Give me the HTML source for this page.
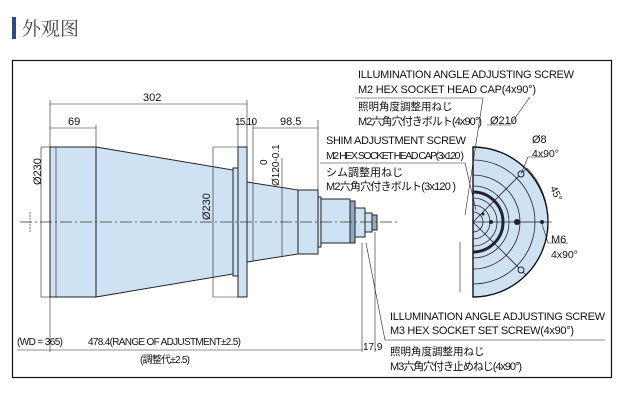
<!DOCTYPE html>
<html><head><meta charset="utf-8"><style>
html,body{margin:0;padding:0;background:#fff;width:638px;height:401px;overflow:hidden}
svg{display:block}
text{font-family:"Liberation Sans","Noto Sans CJK JP",sans-serif;fill:#111}
</style></head><body>
<svg width="638" height="401" viewBox="0 0 638 401" xmlns="http://www.w3.org/2000/svg">
<rect x="12" y="17" width="4" height="22" fill="#2b4a8a"/>
<text x="22" y="35" font-size="19" style="font-family:'Noto Serif CJK SC','Liberation Serif',serif;fill:#444">外观图</text>
<rect x="12.5" y="60.5" width="599" height="317" fill="none" stroke="#111" stroke-width="1.2"/>

<g stroke="#222" stroke-width="1" fill="#cfe2f3">
<rect x="50" y="147" width="46" height="150"/>
<polygon points="96,147 233,170 233,274 96,297"/>
<rect x="233" y="168" width="5" height="108"/>
<rect x="238" y="147" width="9" height="150"/>
<polygon points="247,182 298,190 298,254 247,262"/>
<rect x="298" y="190" width="20" height="64"/>
<rect x="318" y="197" width="3" height="50"/>
<rect x="321" y="199" width="29" height="44"/>
<rect x="350" y="201" width="5" height="42" fill="#8fa9c0"/>
<rect x="355" y="208" width="10" height="29"/>
<rect x="365" y="213" width="7" height="19"/>
<rect x="372" y="215" width="5" height="15" fill="#9ab"/>
</g>
<g stroke="#222" stroke-width="0.6" fill="none">
<line x1="56" y1="147" x2="56" y2="297"/>
<line x1="253" y1="183" x2="253" y2="261"/>
<line x1="282" y1="188" x2="282" y2="256"/>
<line x1="233" y1="170" x2="233" y2="274"/>
</g>
<line x1="20" y1="222" x2="400" y2="222" stroke="#333" stroke-width="0.7" stroke-dasharray="12,3,2,3"/>

<g stroke="#222" stroke-width="0.6" fill="none">
<line x1="50" y1="100" x2="50" y2="352"/>
<line x1="50" y1="104" x2="247" y2="104"/>
<line x1="247" y1="100" x2="247" y2="147"/>
<line x1="50" y1="128" x2="96" y2="128"/>
<line x1="96" y1="125" x2="96" y2="147"/>
<line x1="238" y1="120" x2="238" y2="147"/>
<line x1="253" y1="120" x2="253" y2="182"/>
<line x1="253" y1="128" x2="318" y2="128"/>
<line x1="318" y1="120" x2="318" y2="190"/>
<line x1="41" y1="147" x2="41" y2="297"/>
<line x1="41" y1="147" x2="50" y2="147"/>
<line x1="41" y1="297" x2="50" y2="297"/>
<line x1="213" y1="147" x2="213" y2="297"/>
<line x1="213" y1="147" x2="238" y2="147"/>
<line x1="213" y1="297" x2="238" y2="297"/>
<line x1="282" y1="158" x2="282" y2="188"/>
<line x1="17" y1="350" x2="362" y2="350"/>
<line x1="362" y1="243" x2="362" y2="352"/>
<line x1="375" y1="232" x2="375" y2="352"/>
<line x1="30" y1="212" x2="30" y2="232" stroke-dasharray="2,1"/>
</g>
<g font-size="11">
<text x="143" y="101">302</text>
<text x="68" y="125">69</text>
<text x="235" y="125" font-size="10" textLength="22">15.10</text>
<text x="280" y="125">98.5</text>
<text transform="translate(41,185) rotate(-90)" font-size="11">Ø230</text>
<text transform="translate(210,220) rotate(-90)" font-size="11">Ø230</text>
<text transform="translate(267,165) rotate(-90)" font-size="10">0</text>
<text transform="translate(279,186) rotate(-90)" font-size="10">Ø120-0.1</text>
<text x="17" y="345" font-size="10" textLength="46">(WD = 365)</text>
<text x="88" y="345" font-size="10" textLength="153">478.4(RANGE OF ADJUSTMENT±2.5)</text>
<text x="140" y="363" font-size="10" textLength="50">(調整代±2.5)</text>
<text x="363" y="350" font-size="10">17.9</text>
</g>

<g>
<path d="M473,147 A75,75 0 0 1 473,297 Z" fill="#cfe2f3" stroke="#111" stroke-width="1.4"/>
<g fill="none" stroke="#223" stroke-width="0.8">
<path d="M473,160 A62,62 0 0 1 473,284"/>
<path d="M473,175 A47,47 0 0 1 473,269"/>
<path d="M473,186 A36,36 0 0 1 473,258"/>
<path d="M473,192 A30,30 0 0 1 473,252" stroke-width="3"/>
<path d="M473,198 A24,24 0 0 1 473,246"/>
<path d="M473,205 A17,17 0 0 1 473,239"/>
<path d="M473,212 A10,10 0 0 1 473,232"/>
<line x1="473" y1="222" x2="548" y2="222"/>
<line x1="473" y1="222" x2="526" y2="169"/>
<line x1="473" y1="222" x2="526" y2="275"/>
<path d="M527,168 A75,75 0 0 1 548,222" stroke-width="0.6"/>
<line x1="548" y1="222" x2="552" y2="222" stroke-width="0.6"/>
</g>
<circle cx="521" cy="174" r="3" fill="#cfe2f3" stroke="#222"/>
<circle cx="521" cy="270" r="3" fill="#cfe2f3" stroke="#222"/>
<circle cx="542" cy="222" r="2" fill="#222"/>
<circle cx="517" cy="222" r="3" fill="#222"/>
<circle cx="491" cy="222" r="2" fill="#222"/>
<circle cx="483" cy="214" r="1.5" fill="#222"/>
</g>

<g stroke="#222" stroke-width="0.6" fill="none">
<line x1="355" y1="98" x2="483" y2="98"/>
<line x1="483" y1="98" x2="465" y2="215"/>
<line x1="487" y1="125" x2="510" y2="125"/>
<line x1="510" y1="125" x2="530" y2="97"/>
<line x1="320" y1="163" x2="465" y2="163"/>
<line x1="465" y1="163" x2="476" y2="210"/>
<line x1="528" y1="157" x2="546" y2="157"/>
<line x1="528" y1="157" x2="521" y2="174"/>
<line x1="548" y1="243" x2="568" y2="243"/>
<line x1="548" y1="243" x2="542" y2="224"/>
<line x1="385" y1="340" x2="605" y2="340"/>
<line x1="385" y1="340" x2="366" y2="243"/>
<line x1="460" y1="242" x2="460" y2="292"/>
</g>
<g font-size="11">
<text x="358" y="78" textLength="216">ILLUMINATION ANGLE ADJUSTING SCREW</text>
<text x="358" y="93" textLength="178">M2 HEX SOCKET HEAD CAP(4x90°)</text>
<text x="358" y="110" font-size="10.5">照明角度調整用ねじ</text>
<text x="358" y="125" font-size="11" textLength="124">M2六角穴付きボルト(4x90°)</text>
<text x="490" y="124">Ø210</text>
<text x="326" y="144" textLength="140">SHIM ADJUSTMENT SCREW</text>
<text x="326" y="159" font-size="10.5" textLength="138">M2 HEX SOCKET HEAD CAP(3x120 )</text>
<text x="326" y="176" font-size="11">シム調整用ねじ</text>
<text x="326" y="190" font-size="11" textLength="130">M2六角穴付きボルト(3x120 )</text>
<text x="532" y="143">Ø8</text>
<text x="532" y="157" font-size="10.5">4x90°</text>
<text transform="translate(550,188) rotate(65)" font-size="10">45°</text>
<text x="551" y="243">M6</text>
<text x="551" y="258" font-size="10.5">4x90°</text>
<text x="390" y="320" textLength="215">ILLUMINATION ANGLE ADJUSTING SCREW</text>
<text x="390" y="334" textLength="184">M3 HEX SOCKET SET SCREW(4x90°)</text>
<text x="390" y="355" font-size="10.5">照明角度調整用ねじ</text>
<text x="390" y="370" font-size="11" textLength="132">M3六角穴付き止めねじ(4x90°)</text>
</g>
</svg>
</body></html>
